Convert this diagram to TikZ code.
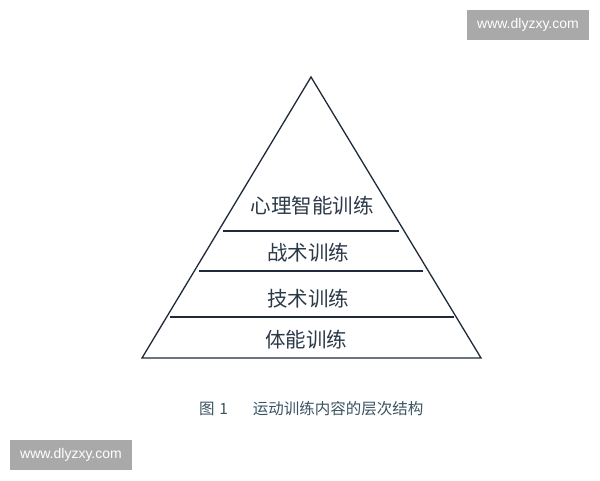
\documentclass[tikz,border=0pt]{standalone}
\usepackage{fontspec}
\setmainfont{Liberation Sans}
\newfontfamily\cjk{Noto Sans CJK SC}
\definecolor{linec}{HTML}{1E2A3A}
\definecolor{txtc}{HTML}{2C3A48}
\definecolor{capc}{HTML}{3A5462}
\definecolor{wmgray}{HTML}{A9A9A9}
\begin{document}
\begin{tikzpicture}[x=1pt,y=-1pt,
  layer/.style={font=\cjk\fontsize{20.5}{20.5}\selectfont, text=txtc, inner sep=0pt},
  divider/.style={draw=linec, line width=1.6pt},
  wm/.style={fill=wmgray, text=white, font=\fontsize{14}{14}\selectfont, inner sep=0pt, minimum height=30pt, minimum width=122pt}]
\useasboundingbox (0,0) rectangle (600,480);
\fill[white] (0,0) rectangle (600,480);
\coordinate (apex) at (311,77);
\coordinate (bl) at (142,358);
\coordinate (br) at (481,358);
\draw[linec, line width=1.3pt, line join=miter] (apex) -- (br) -- (bl) -- cycle;
\coordinate (l1a) at (223,231); \coordinate (l1b) at (399,231);
\coordinate (l2a) at (199,271); \coordinate (l2b) at (423,271);
\coordinate (l3a) at (170,317); \coordinate (l3b) at (454,317);
\draw[divider] (l1a) -- (l1b);
\draw[divider] (l2a) -- (l2b);
\draw[divider] (l3a) -- (l3b);
\node[layer] (t1) at (312,206) {心理智能训练};
\node[layer] (t2) at (308,253) {战术训练};
\node[layer] (t3) at (308,299) {技术训练};
\node[layer] (t4) at (306,340) {体能训练};
\node[font=\cjk\fontsize{15.5}{15.5}\selectfont, text=capc, inner sep=0pt, anchor=west] (cap) at (199,409) {图\hspace{0.3em}1\hspace{1.6em}运动训练内容的层次结构};
\node[wm] (wm1) at (528,25) {www.dlyzxy.com};
\node[wm] (wm2) at (71,455) {www.dlyzxy.com};
\end{tikzpicture}
\end{document}
